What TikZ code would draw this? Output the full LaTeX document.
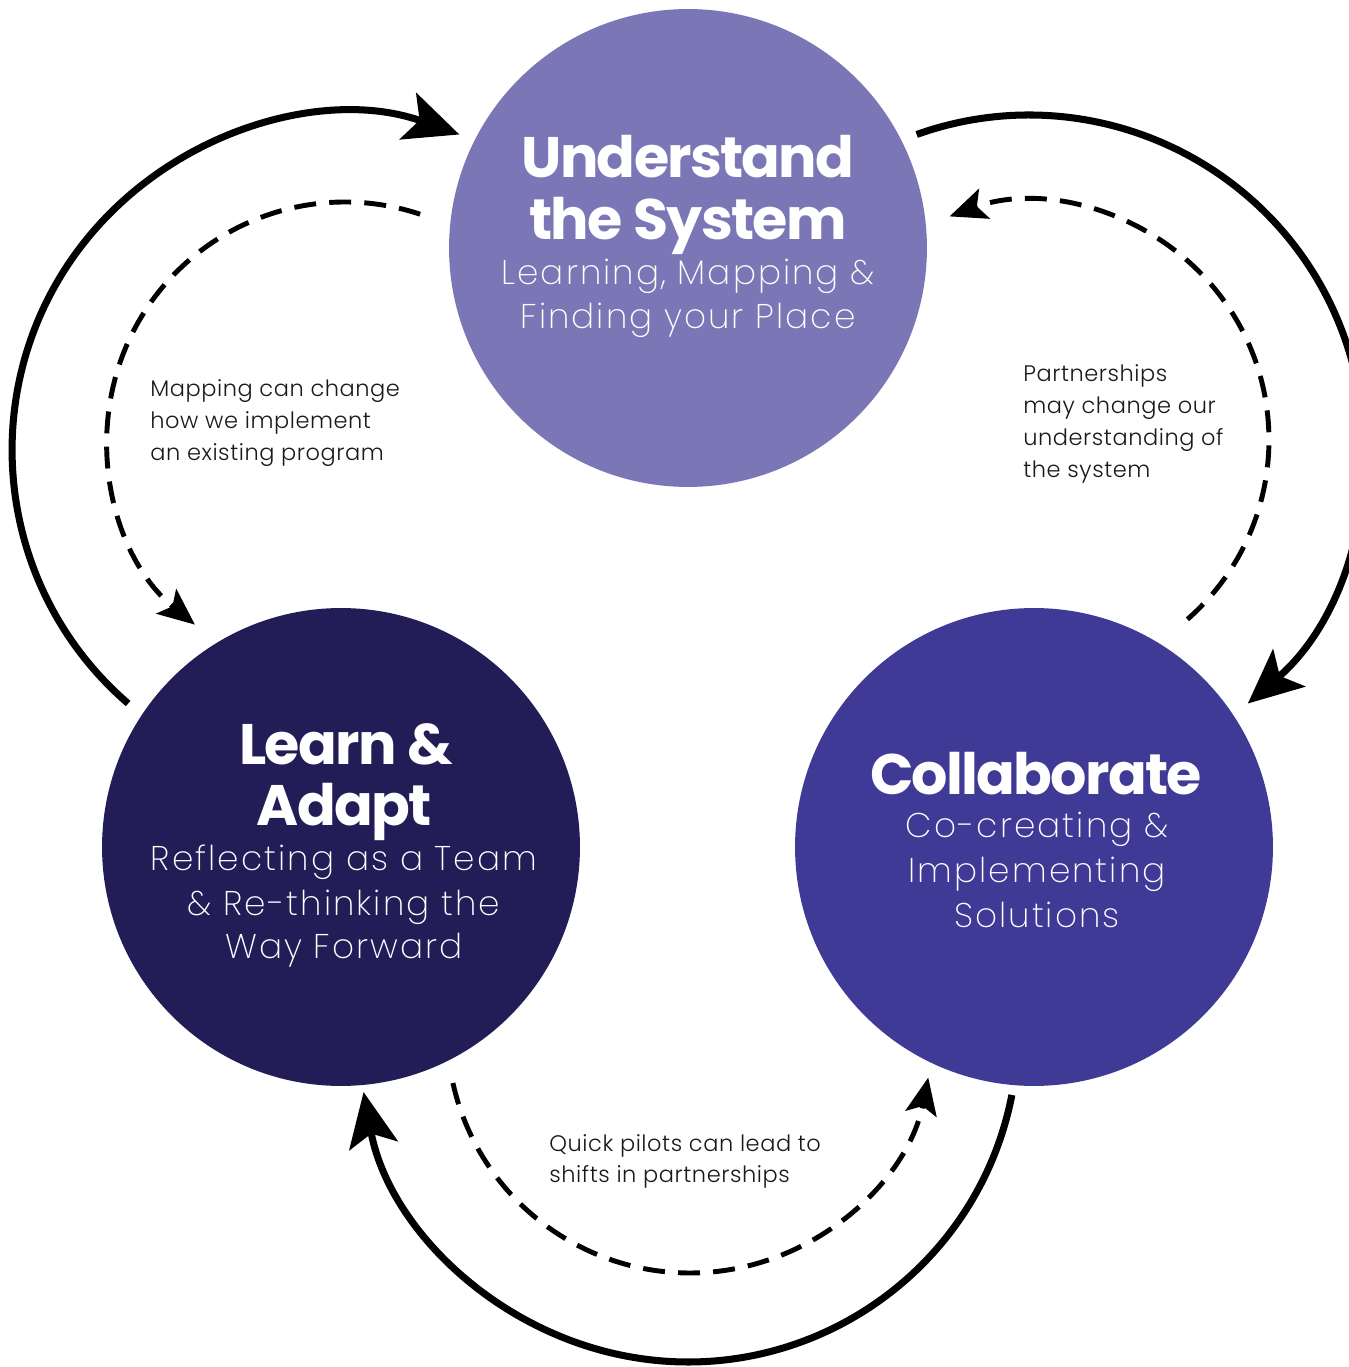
\documentclass[tikz,border=0pt]{standalone}
\usepackage{fontspec}
\usetikzlibrary{arrows.meta}
\newfontfamily\titlef{Poppins Bold}[LetterSpace=-3]
\newfontfamily\subf{Poppins ExtraLight}[LetterSpace=6]
\newfontfamily\lblf{Poppins Light}[LetterSpace=2.5]
\definecolor{cU}{HTML}{7B77B6}
\definecolor{cL}{HTML}{221D56}
\definecolor{cC}{HTML}{3E3A96}
\begin{document}
\begin{tikzpicture}[x=0.02cm,y=0.02cm,
  stage/.style={circle, minimum size=9.56cm, inner sep=0pt, draw=none},
  ttl/.style={anchor=base, text=white, font=\titlef\fontsize{32.5}{32.5}\selectfont, inner sep=0pt},
  sub/.style={anchor=base, text=white, font=\subf\fontsize{19.5}{19.5}\selectfont, inner sep=0pt},
  lbl/.style={anchor=base west, text=black!90, font=\lblf\fontsize{12.8}{12.8}\selectfont, inner sep=0pt},
  flow/.style={line width=4pt, -{Stealth[length=31pt,width=28pt,inset=7pt]}},
  fb/.style={line width=2.8pt, dash pattern=on 12.5pt off 7.5pt, -{Stealth[length=21pt,width=18pt,inset=4.5pt]}}]
\useasboundingbox (0,0) rectangle (1349,1367);
\clip (0,0) rectangle (1349,1367);
\fill[white] (0,0) rectangle (1349,1367);

% stages
\node[stage, fill=cU] (U) at (688,1119) {};
\node[stage, fill=cL] (L) at (341,520) {};
\node[stage, fill=cC] (C) at (1034,520) {};

% texts in stages
\node[ttl] (u1) at (688,1189) {Understand};
\node[ttl] (u2) at (688,1127) {the System};
\node[sub] (u3) at (688,1082) {Learning, Mapping \&};
\node[sub] (u4) at (688,1038) {Finding your Place};

\node[ttl] (l1) at (346,602) {Learn \&};
\node[ttl] (l2) at (344,541) {Adapt};
\node[sub] (l3) at (344,496) {Reflecting as a Team};
\node[sub] (l4) at (344,451) {\& Re-thinking the};
\node[sub] (l5) at (344,408) {Way Forward};

\node[ttl] (c1) at (1036,572) {Collaborate};
\node[sub] (c2) at (1037,529) {Co-creating \&};
\node[sub] (c3) at (1037,484) {Implementing};
\node[sub] (c4) at (1037,439) {Solutions};

% solid cycle arrows
\coordinate (oA) at (347,917);
\coordinate (sA) at ([shift={(229.2:6.7cm)}]oA);
\draw[flow] (sA) arc[start angle=229.2, end angle=70.4, radius=6.7cm];
\coordinate (oB) at (1029,917);
\coordinate (sB) at ([shift={(109.6:6.7cm)}]oB);
\draw[flow] (sB) arc[start angle=109.6, end angle=-49.2, radius=6.7cm];
\coordinate (oC) at (688,335);
\coordinate (sC) at ([shift={(-11:6.6cm)}]oC);
\draw[flow] (sC) arc[start angle=-11, end angle=-169.5, radius=6.6cm];

% dashed feedback arrows
\coordinate (oD) at (345,927);
\coordinate (sD) at ([shift={(71.6:4.76cm)}]oD);
\draw[fb] (sD) arc[start angle=71.6, end angle=230.9, radius=4.76cm];
\coordinate (oE) at (1031,927);
\coordinate (sE) at ([shift={(-48.9:4.76cm)}]oE);
\draw[fb] (sE) arc[start angle=-48.9, end angle=110, radius=4.76cm];
\coordinate (oF) at (690,337);
\coordinate (sF) at ([shift={(192.6:4.86cm)}]oF);
\draw[fb] (sF) arc[start angle=192.6, end angle=348.7, radius=4.86cm];

% labels
\node[lbl] (m1) at (150,970) {Mapping can change};
\node[lbl] (m2) at (150,938) {how we implement};
\node[lbl] (m3) at (150,906) {an existing program};

\node[lbl] (p1) at (1023,985) {Partnerships};
\node[lbl] (p2) at (1023,953) {may change our};
\node[lbl] (p3) at (1023,921) {understanding of};
\node[lbl] (p4) at (1023,889) {the system};

\node[lbl] (q1) at (549,215) {Quick pilots can lead to};
\node[lbl] (q2) at (549,184) {shifts in partnerships};
\end{tikzpicture}
\end{document}
